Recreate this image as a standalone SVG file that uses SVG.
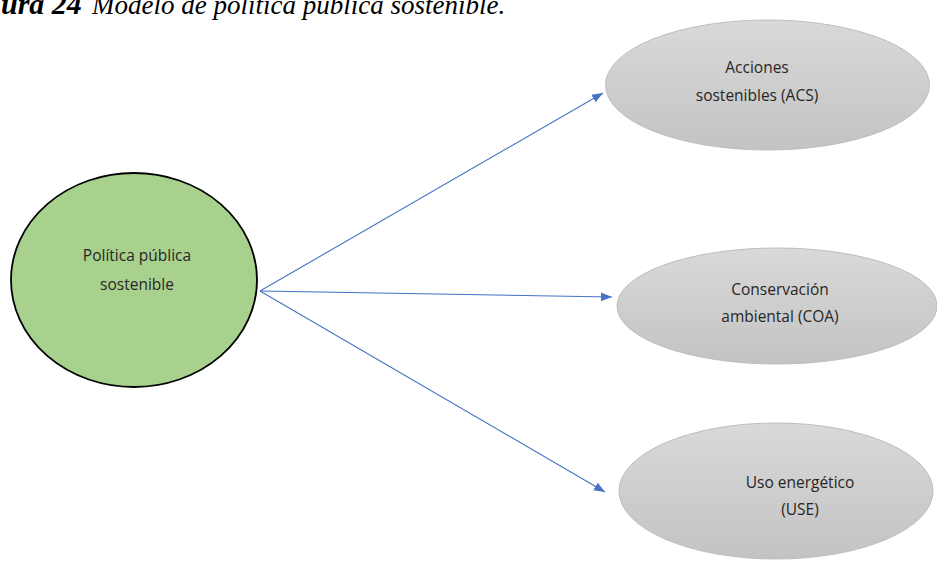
<svg xmlns="http://www.w3.org/2000/svg" width="937" height="563" viewBox="0 0 937 563">
  <defs>
    <linearGradient id="grayFill" x1="0" y1="0" x2="0" y2="1">
      <stop offset="0" stop-color="#d9d9d9"/>
      <stop offset="1" stop-color="#c3c3c3"/>
    </linearGradient>
    <marker id="arrow" viewBox="0 0 10 8" refX="10" refY="4" markerWidth="11" markerHeight="9" markerUnits="userSpaceOnUse" orient="auto">
      <path d="M0,0 L10,4 L0,8 Z" fill="#4472c4"/>
    </marker>
  </defs>
  <style>
    .title { font-family: "Liberation Serif", "Times New Roman", serif; font-size: 27px; font-style: italic; fill: #000; }
    .title .num { font-weight: bold; font-size: 30px; }
    .label { font-family: "Open Sans", "Liberation Sans", sans-serif; font-size: 15.5px; fill: #262626; text-anchor: middle; }
    .gray { fill: url(#grayFill); stroke: #bdbdbd; stroke-width: 1; }
    .green { fill: #a9d18e; stroke: #000; stroke-width: 1.8; }
    .link { stroke: #4472c4; stroke-width: 1.1; fill: none; marker-end: url(#arrow); }
  </style>

  <rect width="937" height="563" fill="#fff"/>

  <!-- caption -->
  <text class="title" x="1" y="14"><tspan class="num">ura 24</tspan><tspan x="92">Modelo de política pública sostenible.</tspan></text>

  <g id="connectors">
    <line class="link" x1="260" y1="291" x2="603" y2="93"/>
    <line class="link" x1="260" y1="291" x2="612" y2="297"/>
    <line class="link" x1="260" y1="291" x2="605" y2="492"/>
  </g>

  <g id="node-pps">
    <ellipse class="green" cx="134" cy="280" rx="123" ry="107"/>
    <text class="label" x="137" y="261">Política pública</text>
    <text class="label" x="137" y="290">sostenible</text>
  </g>

  <g id="node-acs">
    <ellipse class="gray" cx="767.5" cy="85" rx="162" ry="65"/>
    <text class="label" x="757" y="73">Acciones</text>
    <text class="label" x="757" y="101">sostenibles (ACS)</text>
  </g>

  <g id="node-coa">
    <ellipse class="gray" cx="777" cy="306" rx="160" ry="58"/>
    <text class="label" x="780" y="295">Conservación</text>
    <text class="label" x="780" y="322">ambiental (COA)</text>
  </g>

  <g id="node-use">
    <ellipse class="gray" cx="776" cy="491" rx="157" ry="68"/>
    <text class="label" x="800" y="488">Uso energético</text>
    <text class="label" x="800" y="515">(USE)</text>
  </g>
</svg>
